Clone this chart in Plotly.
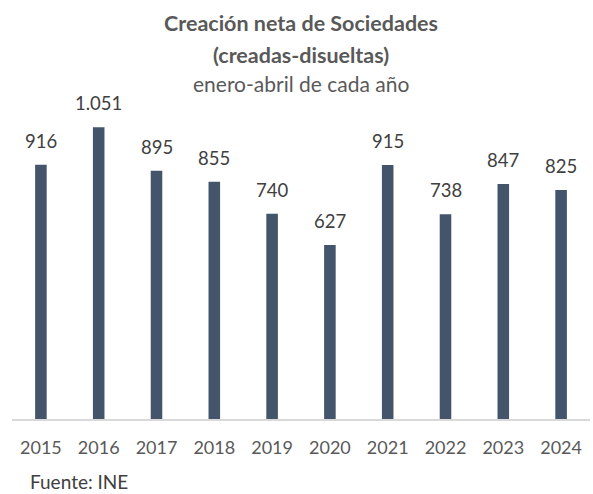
import plotly.graph_objects as go

years = ["2015", "2016", "2017", "2018", "2019", "2020", "2021", "2022", "2023", "2024"]
values = [916, 1051, 895, 855, 740, 627, 915, 738, 847, 825]
labels = ["916", "1.051", "895", "855", "740", "627", "915", "738", "847", "825"]

W, H = 593, 494
x0, x1 = 12, 590
y_base, y_top = 419, 86

fig = go.Figure()
fig.add_trace(go.Bar(
    x=years, y=values,
    marker=dict(color="#44546A", line=dict(width=0)),
    width=0.2, hoverinfo="skip",
))
for i, (v, lab) in enumerate(zip(values, labels)):
    fig.add_annotation(x=i, y=v, text=lab, showarrow=False, yanchor="middle", yshift=24,
                       font=dict(size=18.5, color="#404040", family="Lato"))

fig.update_layout(
    width=W, height=H,
    margin=dict(l=x0, r=W - x1, t=y_top, b=H - y_base),
    plot_bgcolor="white", paper_bgcolor="white",
    showlegend=False,
    font=dict(family="Lato", color="#595959"),
    xaxis=dict(type="category", showline=True, linecolor="#D9D9D9", linewidth=1.5, ticks="",
               tickfont=dict(size=18, color="#595959"), showgrid=False,
               ticklabelstandoff=12),
    yaxis=dict(range=[0, 1200], visible=False, showgrid=False),
)

ph = y_base - y_top
pw = x1 - x0

def py(p):
    return (y_base - p) / ph

for txt, ypix, sz in [("<b>Creación neta de Sociedades</b>", 23, 21.5),
                      ("<b>(creadas-disueltas)</b>", 55, 21.5),
                      ("enero-abril de cada año", 84, 21)]:
    fig.add_annotation(text=txt, x=0.5, xref="paper", y=py(ypix), yref="paper",
                       yanchor="middle", showarrow=False,
                       font=dict(size=sz, color="#595959"))
fig.add_annotation(text="Fuente: INE", x=(28 - x0) / pw, xref="paper", y=py(481), yref="paper",
                   xanchor="left", yanchor="middle", showarrow=False,
                   font=dict(size=19, color="#404040"))

fig.write_html("out.html", post_script="document.body.style.margin='0';",
               config={"displayModeBar": False})
